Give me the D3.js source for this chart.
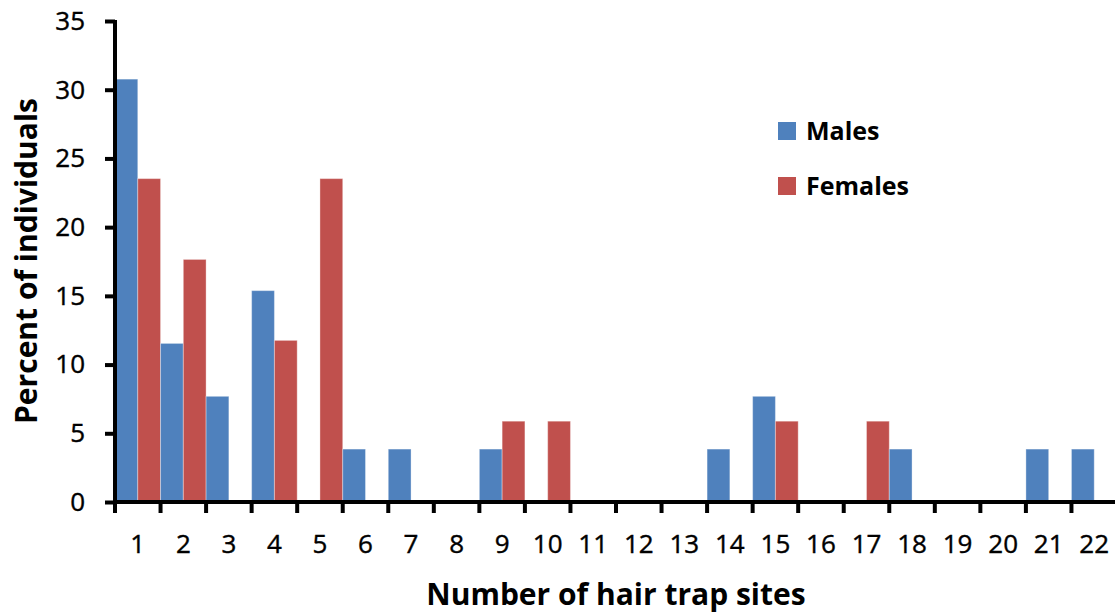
<!DOCTYPE html>
<html lang="en">
<head>
    <meta charset="UTF-8">
    <title>Hair trap sites</title>
    <script src="https://d3js.org/d3.v7.min.js"></script>
    <style>
        body, html { margin: 0; padding: 0; background: #fff; font-family: "Open Sans", Lato, sans-serif; }
        .tick-label { font-family: "Open Sans", sans-serif; font-size: 26px; fill: #000; stroke: #000; stroke-width: 0.4px; }
        .axis-title { font-size: 30px; font-weight: bold; fill: #000; }
        .legend-label { font-size: 25px; font-weight: bold; fill: #000; }
    </style>
</head>
<body>
<div id="chart"></div>
<script>
    // categories = number of hair trap sites
    const sites = d3.range(1, 23).map(String);
    const seriesNames = ["Males", "Females"];
    const seriesColors = ["#4F81BD", "#C0504D"];
    // percent of individuals per category
    const males = [30.77, 11.54, 7.69, 15.38, 0, 3.85, 3.85, 0, 3.85, 0, 0, 0, 0, 3.85, 7.69, 0, 0, 3.85, 0, 0, 3.85, 3.85];
    const females = [23.53, 17.65, 0, 11.76, 23.53, 0, 0, 0, 5.88, 5.88, 0, 0, 0, 0, 5.88, 0, 5.88, 0, 0, 0, 0, 0];
    const yTicks = [0, 5, 10, 15, 20, 25, 30, 35];

    const width = 1115, height = 614;
    const plotLeft = 115, plotRight = 1117, plotTop = 21, plotBottom = 502;

    const svg = d3.select("#chart").append("svg")
        .attr("width", width)
        .attr("height", height);

    const x = d3.scaleBand().domain(sites).range([plotLeft, plotRight]).padding(0);
    const xs = d3.scaleBand().domain(seriesNames).range([0, x.bandwidth()]).padding(0);
    const y = d3.scaleLinear().domain([0, 35]).range([plotBottom, plotTop]);

    const rows = sites.map((s, i) => ({ site: s, values: [males[i], females[i]] }));

    const groups = svg.append("g").selectAll("g")
        .data(rows)
        .enter().append("g")
        .attr("transform", d => `translate(${x(d.site)},0)`);

    groups.selectAll("rect")
        .data(d => d.values.map((v, j) => ({ name: seriesNames[j], v: v, c: seriesColors[j] })).filter(e => e.v > 0))
        .enter().append("rect")
        .attr("x", d => xs(d.name))
        .attr("width", xs.bandwidth())
        .attr("y", d => y(d.v))
        .attr("height", d => y(0) - y(d.v))
        .attr("fill", d => d.c)
        .attr("stroke", "#fff")
        .attr("stroke-opacity", 0.35)
        .attr("stroke-width", 1);

    // y axis
    const yAxis = svg.append("g")
        .attr("transform", `translate(${plotLeft},0)`)
        .call(d3.axisLeft(y).tickValues(yTicks).tickSize(10).tickPadding(20));
    yAxis.attr("font-family", null).attr("font-size", null);
    yAxis.select(".domain").attr("stroke", "#000").attr("stroke-width", 4)
        .attr("d", `M0,${plotTop - 1}V${plotBottom}`);
    yAxis.selectAll(".tick line").attr("stroke", "#000").attr("stroke-width", 4);
    yAxis.selectAll(".tick text").attr("class", "tick-label");

    // x axis: labels in band centres, ticks on band boundaries
    const xAxis = svg.append("g")
        .attr("transform", `translate(0,${plotBottom})`)
        .call(d3.axisBottom(x).tickSize(0).tickPadding(33));
    xAxis.attr("font-family", null).attr("font-size", null);
    xAxis.select(".domain").remove();
    xAxis.selectAll(".tick text").attr("class", "tick-label");

    svg.append("line")
        .attr("x1", plotLeft - 2).attr("x2", width)
        .attr("y1", plotBottom).attr("y2", plotBottom)
        .attr("stroke", "#000").attr("stroke-width", 4);

    svg.append("g").selectAll("line")
        .data(sites)
        .enter().append("line")
        .attr("x1", d => x(d)).attr("x2", d => x(d))
        .attr("y1", plotBottom).attr("y2", plotBottom + 11)
        .attr("stroke", "#000").attr("stroke-width", 4);

    // axis titles
    svg.append("text")
        .attr("class", "axis-title")
        .attr("text-anchor", "middle")
        .attr("x", 616).attr("y", 605)
        .text("Number of hair trap sites");

    svg.append("text")
        .attr("class", "axis-title")
        .attr("text-anchor", "middle")
        .attr("transform", "translate(37,261) rotate(-90)")
        .text("Percent of individuals");

    // legend
    const legend = svg.append("g").selectAll("g")
        .data(seriesNames)
        .enter().append("g")
        .attr("transform", (d, i) => `translate(778,${122 + i * 55})`);
    legend.append("rect")
        .attr("width", 18).attr("height", 18)
        .attr("fill", (d, i) => seriesColors[i]);
    legend.append("text")
        .attr("class", "legend-label")
        .attr("x", 28).attr("y", 18)
        .text(d => d);
</script>
</body>
</html>
